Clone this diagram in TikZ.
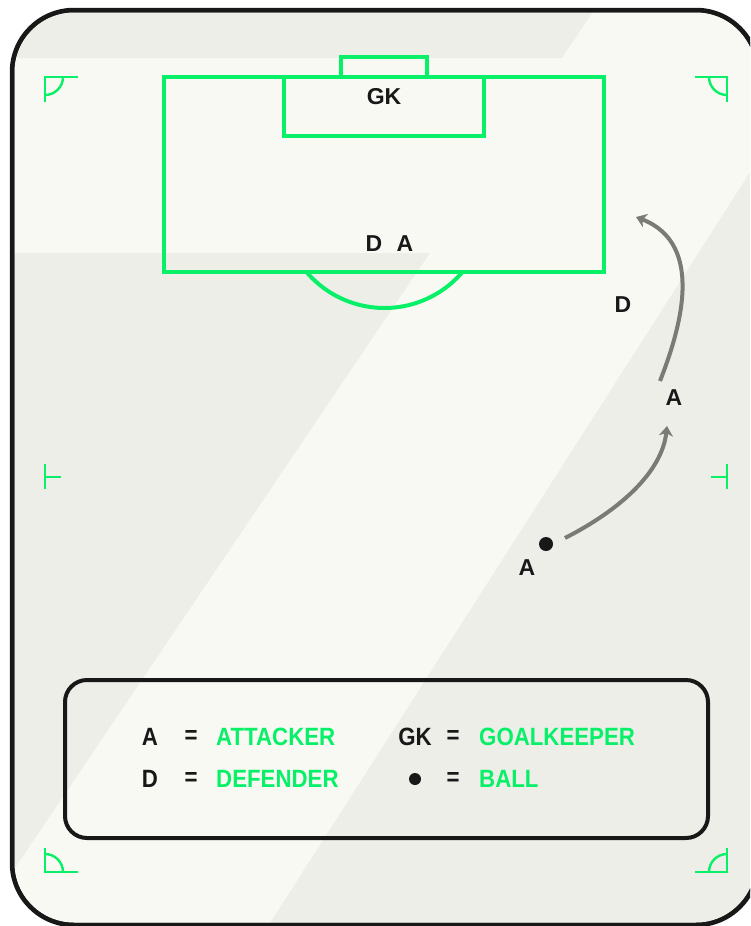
\documentclass[tikz,border=0pt]{standalone}
\usepackage{fontspec}
\setmainfont{Liberation Sans}
\newfontfamily\legfont[FakeStretch=0.89]{Liberation Sans}
\usetikzlibrary{arrows.meta}
\definecolor{pitchgrey}{RGB}{238,238,233}
\definecolor{pitchcream}{RGB}{249,249,243}
\definecolor{linegreen}{RGB}{8,240,104}
\definecolor{inkblack}{RGB}{24,24,24}
\definecolor{runcol}{RGB}{123,123,118}
\tikzset{
  fieldline/.style={draw=linegreen, line width=4pt},
  markline/.style={draw=linegreen, line width=2.4pt},
  player/.style={inner sep=0pt, text=inkblack, font=\bfseries\fontsize{23}{23}\selectfont},
  legkey/.style={inner sep=0pt, text=inkblack, font=\legfont\bfseries\fontsize{25}{25}\selectfont},
  legval/.style={inner sep=0pt, anchor=west, text=linegreen, font=\legfont\bfseries\fontsize{25}{25}\selectfont},
  run/.style={draw=runcol, line width=4pt, -{Stealth[length=10pt,width=14pt,inset=3pt]}},
}
\begin{document}
\begin{tikzpicture}[x=1pt,y=-1pt]
\fill[white] (0,0) rectangle (750,926);
% pitch background
\begin{scope}
  \clip (0,0) rectangle (750,926);
  \clip (12,72) arc[start angle=180, end angle=270, radius=62] -- (696,10)
     arc[start angle=270, end angle=360, radius=62] -- (770,10) -- (770,940) -- (0,940) -- (0,72) -- cycle;
  \clip (0,0) -- (800,0) -- (800,863) -- (758,863) arc[start angle=0, end angle=90, radius=62] -- (74,925)
     arc[start angle=90, end angle=180, radius=62] -- (12,0) -- cycle;
  \fill[pitchgrey] (0,0) rectangle (760,930);
  \fill[pitchcream] (0,58) -- (562,58) -- (601,0) -- (860,0) -- (268,926)
     -- (-24,926) -- (430,253) -- (0,253) -- cycle;
  \draw[inkblack, line width=4.5pt] (758,863) arc[start angle=0, end angle=90, radius=62] -- (74,925)
     arc[start angle=90, end angle=180, radius=62] -- (12,72)
     arc[start angle=180, end angle=270, radius=62] -- (696,10)
     arc[start angle=270, end angle=360, radius=62];
\end{scope}
\begin{scope}
  \clip (0,0) rectangle (750,926);
  \draw[inkblack, line width=4.5pt] (758,863) arc[start angle=0, end angle=90, radius=62] -- (74,925)
     arc[start angle=90, end angle=180, radius=62] -- (12,72)
     arc[start angle=180, end angle=270, radius=62] -- (696,10)
     arc[start angle=270, end angle=360, radius=62];
\end{scope}

% penalty area, goal area, goal, arc
\draw[fieldline] (164,77) rectangle (604,272);
\draw[fieldline] (284,77) rectangle (484,136);
\draw[fieldline] (341,57) rectangle (427,77);
\draw[fieldline] (384.5,205.5) ++(139.5:102.5) arc[start angle=139.5, end angle=40.5, radius=102.5];

% corner marks
\draw[markline] (78,77) -- (45,77) -- (45,102);
\draw[markline] (63,77) arc[start angle=0, end angle=90, radius=18];
\draw[markline] (695,77) -- (727,77) -- (727,102);
\draw[markline] (709,77) arc[start angle=180, end angle=90, radius=18];
\draw[markline] (45,848) -- (45,872) -- (78,872);
\draw[markline] (45,854) arc[start angle=-90, end angle=0, radius=18];
\draw[markline] (727,848) -- (727,872) -- (695,872);
\draw[markline] (727,854) arc[start angle=-90, end angle=-180, radius=18];
% halfway marks
\draw[markline] (45,464) -- (45,489);
\draw[markline] (45,477) -- (61,477);
\draw[markline] (727,464) -- (727,489);
\draw[markline] (711,477) -- (727,477);

% players
\node[player] (gk) at (384,97) {GK};
\node[player] (d1) at (374,244) {D};
\node[player] (a3) at (405,244) {A};
\node[player] (d2) at (623,305) {D};
\node[player] (a2) at (674,398) {A};
\node[player] (a1) at (527,568) {A};
\node[circle, fill=inkblack, inner sep=0pt, minimum size=14pt] (ball) at (546,544) {};

% runs
\coordinate (r1s) at (565,538);
\coordinate (r1e) at (667,426);
\coordinate (r2s) at (660,381);
\coordinate (r2e) at (636,217);
\draw[run] (r1s) .. controls (620,510) and (662,472) .. (r1e);
\draw[run] (r2s) .. controls (680,330) and (706,244) .. (r2e);

% legend
\draw[inkblack, line width=4pt, rounded corners=22pt] (65,680) rectangle (708,838);
\node[legkey] (kA) at (150,737) {A};
\node[legkey] (eA) at (191,737) {=};
\node[legval] (vA) at (216,737) {ATTACKER};
\node[legkey] (kD) at (150,779) {D};
\node[legkey] (eD) at (191,779) {=};
\node[legval] (vD) at (216,779) {DEFENDER};
\node[legkey] (kG) at (415,737) {GK};
\node[legkey] (eG) at (453,737) {=};
\node[legval] (vG) at (479,737) {GOALKEEPER};
\node[circle, fill=inkblack, inner sep=0pt, minimum size=12pt] (kB) at (415,779) {};
\node[legkey] (eB) at (453,779) {=};
\node[legval] (vB) at (479,779) {BALL};

\pgfresetboundingbox
\useasboundingbox (0,0) rectangle (750,926);
\end{tikzpicture}
\end{document}
